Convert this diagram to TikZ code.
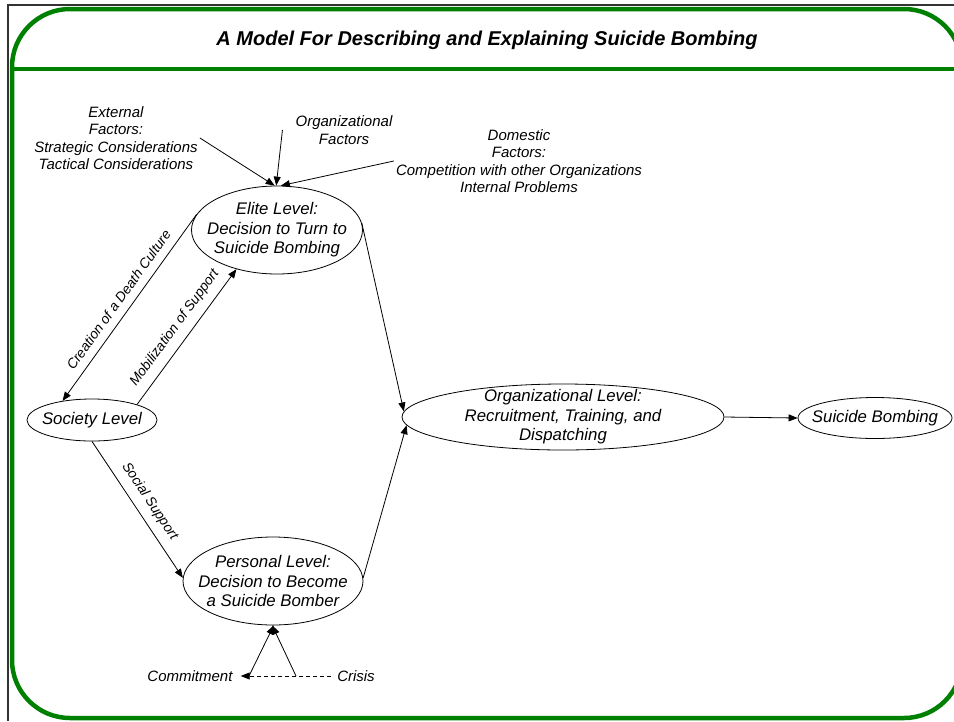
\documentclass[tikz,border=0pt]{standalone}
\usepackage{fontspec}
\setmainfont{Liberation Sans}
\usetikzlibrary{arrows.meta,shapes.geometric}
\definecolor{frameGreen}{RGB}{0,128,0}
\definecolor{edgeGray}{RGB}{51,51,51}

\begin{document}
\begin{tikzpicture}[x=1pt,y=-1pt,
  lvl/.style={draw, ellipse, inner sep=0pt, line width=0.8pt},
  lvltext/.style={align=center, inner sep=0pt, font=\fontsize{16.8}{19.5}\selectfont\itshape},
  fac/.style={align=center, inner sep=2pt, font=\fontsize{15}{17.5}\selectfont\itshape},
  elab/.style={sloped, above=7pt, inner sep=1pt, font=\fontsize{13.8}{16}\selectfont\itshape},
  arr/.style={-{Triangle[length=9pt,width=7pt]}, line width=0.8pt},
  gline/.style={draw=frameGreen, line width=4.5pt},
]
\useasboundingbox (0,0) rectangle (954,721);

% outer border and rounded green frame with title band
\draw[edgeGray, line width=1.5pt] (8,721) -- (8,5) -- (954,5);
\draw[gline, rounded corners=58pt] (12,9) rectangle (962,718);
\draw[gline] (12,69) -- (962,69);
\node[font=\fontsize{20}{24}\selectfont\bfseries\itshape] (title) at (487,40)
  {A Model For Describing and Explaining Suicide Bombing};

% level ellipses
\node[lvl, minimum width=171pt, minimum height=88pt] (elite) at (277,230) {};
\node[lvltext] (eliteT) at (elite.center) {Elite Level:\\Decision to Turn to\\Suicide Bombing};
\node[lvl, minimum width=130pt, minimum height=42pt] (soc) at (92,420) {};
\node[lvltext] (socT) at (soc.center) {Society Level};
\node[lvl, minimum width=180pt, minimum height=88pt] (pers) at (273,581) {};
\node[lvltext] (persT) at (pers.center) {Personal Level:\\Decision to Become\\a Suicide Bomber};
\node[lvl, minimum width=322pt, minimum height=66pt] (org) at (563,417) {};
\node[lvltext] (orgT) at (org.center) {Organizational Level:\\Recruitment, Training, and\\Dispatching};
\node[lvl, minimum width=154pt, minimum height=41pt] (sb) at (875,418) {};
\node[lvltext] (sbT) at (sb.center) {Suicide Bombing};

% factor labels
\node[fac] (ext) at (116,138) {External\\Factors:\\Strategic Considerations\\Tactical Considerations};
\node[fac] (orgf) at (344,130) {Organizational\\Factors};
\node[fac] (dom) at (519,161) {Domestic\\Factors:\\Competition with other Organizations\\Internal Problems};
\node[fac] (comm) at (190,676) {Commitment};
\node[fac] (cris) at (356,676) {Crisis};

% factors acting on the elite level
\draw[arr] (ext.east) -- (elite.93);
\draw[arr] ([xshift=-11pt]orgf.west) -- (elite.91);
\draw[arr] (dom.west) -- (elite.85);

% relations between levels
\draw[arr] (elite.169) -- (soc.147) node[elab, midway] {Creation of a Death Culture};
\draw[arr] (soc.19) -- (elite.224) node[elab, midway] {Mobilization of Support};
\draw[arr] (soc.south) -- (pers.178) node[elab, midway] {Social Support};
\draw[arr] (elite.5) -- (org.178);
\draw[arr] (pers.2) -- (org.183);
\draw[arr] (org.east) -- (sb.west);

% commitment / crisis feeding the personal level
\draw[arr, dash pattern=on 4pt off 3pt] ([xshift=-4pt]cris.west) -- ([xshift=6pt]comm.east);
\coordinate (cl) at (249,676);
\coordinate (cr) at (296,676);
\draw[arr] (cl) -- (pers.271);
\draw[arr] (cr) -- (pers.269);
\end{tikzpicture}
\end{document}
